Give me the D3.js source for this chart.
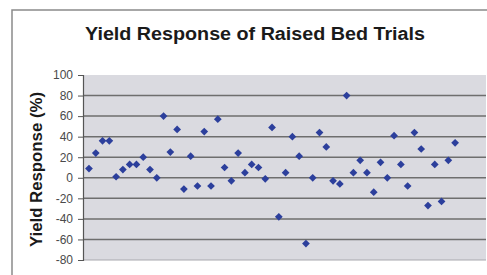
<!DOCTYPE html>
<html><head><meta charset="utf-8">
<script src="https://cdn.jsdelivr.net/npm/d3@7"></script>
<style>html,body{margin:0;padding:0;background:#fff;}svg{display:block;}</style>
</head><body>
<script>
const title = "Yield Response of Raised Bed Trials";
const yLabel = "Yield Response (%)";
const trials = d3.range(1, 56);
const yieldResponse = [9,24,36,36,1,8,13,13,20,8,0,60,25,47,-11,21,-8,45,-8,57,10,-3,24,5,13,10,-1,49,-38,5,40,21,-64,0,44,30,-3,-6,80,5,17,5,-14,15,0,41,13,-8,44,28,-27,13,-23,17,34];
const yTicks = [100,80,60,40,20,0,-20,-40,-60,-80];

const W = 487, H = 275;
const svg = d3.select("body").append("svg").attr("width", W).attr("height", H);

// chart frame
svg.append("rect").attr("x", 12).attr("y", 10).attr("width", W).attr("height", H)
  .attr("fill", "#fff").attr("stroke", "#8a8a8a").attr("stroke-width", 1.5);

const plot = {left: 83, top: 75, right: 486, bottom: 260};
const x = d3.scaleLinear().domain([0, 60]).range([82.2, 489]);
const y = d3.scaleLinear().domain([-80, 100]).range([plot.bottom, plot.top]);

svg.append("rect").attr("x", plot.left).attr("y", plot.top)
  .attr("width", plot.right - plot.left).attr("height", plot.bottom - plot.top)
  .attr("fill", "#dadae0");

// gridlines
svg.append("g").selectAll("line").data(yTicks.filter(t => t !== -80 && t !== 100)).join("line")
  .attr("x1", plot.left).attr("x2", plot.right)
  .attr("y1", d => y(d)).attr("y2", d => y(d))
  .attr("stroke", "#6e6e6e").attr("stroke-width", 1.5);
svg.append("line").attr("x1", plot.left).attr("x2", plot.right)
  .attr("y1", plot.bottom).attr("y2", plot.bottom).attr("stroke", "#a8a8ae").attr("stroke-width", 1);

// y axis
const yAxis = d3.axisLeft(y).tickValues(yTicks).tickSize(5).tickPadding(5).tickFormat(d => String(d));
const ga = svg.append("g").attr("transform", `translate(${plot.left},0)`).call(yAxis);
ga.select(".domain").attr("stroke", "#555").attr("stroke-width", 1.2);
ga.selectAll(".tick line").attr("stroke", "#555");
ga.selectAll("text").attr("font-family", "Arial, 'Liberation Sans', sans-serif")
  .attr("font-size", 12).attr("fill", "#4a4a4a");

// markers (square diamonds)
const diamond = d3.symbol().type(d3.symbolSquare).size(30);
svg.append("g").selectAll("path").data(trials).join("path")
  .attr("d", diamond)
  .attr("transform", (d, i) => `translate(${x(d)},${y(yieldResponse[i])}) rotate(45)`)
  .attr("fill", "#2c3f9c");

// title
svg.append("text").attr("x", 255).attr("y", 40).attr("text-anchor", "middle")
  .attr("font-family", "Arial, 'Liberation Sans', sans-serif").attr("font-weight", "bold")
  .attr("font-size", 18).attr("fill", "#1a1a1a")
  .attr("textLength", 340).attr("lengthAdjust", "spacingAndGlyphs").text(title);

// y label
svg.append("text").attr("transform", `translate(42,169.5) rotate(-90)`)
  .attr("text-anchor", "middle")
  .attr("font-family", "Arial, 'Liberation Sans', sans-serif").attr("font-weight", "bold")
  .attr("font-size", 16).attr("fill", "#1a1a1a")
  .attr("textLength", 155).attr("lengthAdjust", "spacingAndGlyphs").text(yLabel);
</script>
</body></html>
